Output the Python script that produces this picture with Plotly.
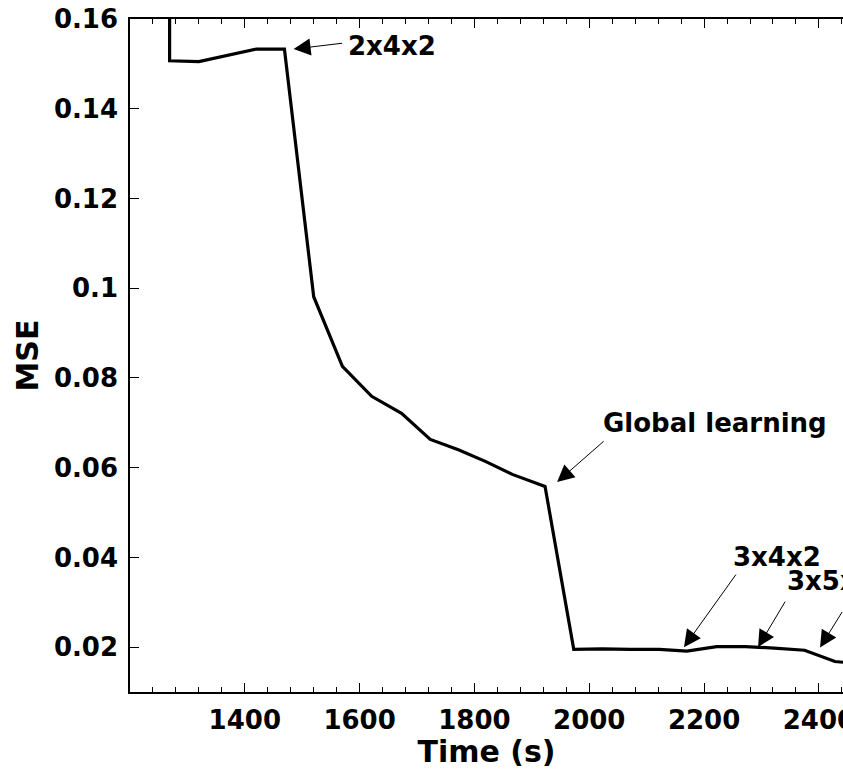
import plotly.graph_objects as go

# Data
time_s = [1269, 1269, 1320, 1370, 1420, 1469, 1520, 1570, 1621, 1673, 1723,
          1772, 1819, 1866, 1923, 1973, 2022, 2072, 2122, 2170, 2222, 2272,
          2322, 2375, 2428, 2478]
mse = [0.2, 0.1507, 0.1505, 0.1519, 0.1533, 0.1533, 0.0981, 0.0826, 0.0759,
       0.0721, 0.0663, 0.0640, 0.0614, 0.0585, 0.0558, 0.0195, 0.0196, 0.0195,
       0.0195, 0.0191, 0.0201, 0.0201, 0.0198, 0.0193, 0.0168, 0.0162]

x_ticks = [1400, 1600, 1800, 2000, 2200, 2400]
y_ticks = [0.02, 0.04, 0.06, 0.08, 0.1, 0.12, 0.14, 0.16]
y_tick_text = ["0.02", "0.04", "0.06", "0.08", "0.1", "0.12", "0.14", "0.16"]

# annotations: label, arrow head (data), tail offset (px), text position (data), anchor
labels = ["2x4x2", "Global learning", "3x4x2", "3x5x2", ""]
head_x = [1485, 1944, 2165, 2294, 2402]
head_y = [0.1533, 0.0568, 0.0200, 0.0200, 0.0199]
tail_dx = [50, 48, 53, 28, 45]
tail_dy = [-6, -42, -74, -47, -37]
text_x = [1576, 2219, 2327, 2341, 2500]
text_y = [0.1540, 0.0700, 0.0402, 0.0347, 0.03]
text_anchor = ["left", "center", "center", "left", "left"]

FONT = dict(family="DejaVu Sans", size=26, color="black", weight="bold")
TITLE_FONT = dict(family="DejaVu Sans", size=30, color="black", weight="bold")

fig = go.Figure()
fig.add_trace(go.Scatter(x=time_s, y=mse, mode="lines",
                         line=dict(color="black", width=3.2), showlegend=False))

annotations = []
for lab, hx, hy, dx, dy, tx, ty, anc in zip(labels, head_x, head_y, tail_dx,
                                             tail_dy, text_x, text_y, text_anchor):
    annotations.append(dict(x=hx, y=hy, xref="x", yref="y", text="",
                            showarrow=True, ax=dx, ay=dy, arrowhead=2,
                            arrowsize=3.4, arrowwidth=1, arrowcolor="black",
                            standoff=0))
    if lab:
        annotations.append(dict(x=tx, y=ty, xref="x", yref="y", text=lab,
                                showarrow=False, xanchor=anc, yanchor="middle",
                                font=FONT))

axis_common = dict(showline=True, linecolor="black", linewidth=1.5,
                   ticks="inside", tickcolor="black", tickwidth=1,
                   showgrid=False, zeroline=False, tickfont=FONT,
                   ticklabeloverflow="allow", automargin=False)

fig.update_layout(
    template="none",
    width=843, height=769,
    margin=dict(l=130, r=0, t=19, b=77, autoexpand=False),
    paper_bgcolor="white", plot_bgcolor="white",
    annotations=annotations,
    xaxis=dict(range=[1200, 2442], tickvals=x_ticks, ticklen=9,
               mirror="ticks",
               minor=dict(ticks="inside", dtick=40, ticklen=5,
                          tickcolor="black", tickwidth=1),
               ticklabelstandoff=4,
               title=dict(text="Time (s)", font=TITLE_FONT, standoff=3),
               **axis_common),
    yaxis=dict(range=[0.01, 0.16], tickvals=y_ticks, ticktext=y_tick_text,
               ticklen=9, ticklabelstandoff=5, mirror=False,
               title=dict(text="MSE", font=TITLE_FONT, standoff=6),
               **axis_common),
)

fig.write_html("out.html", config={"displayModeBar": False},
               post_script="document.body.style.margin='0';"
                           "document.body.style.overflow='hidden';")
